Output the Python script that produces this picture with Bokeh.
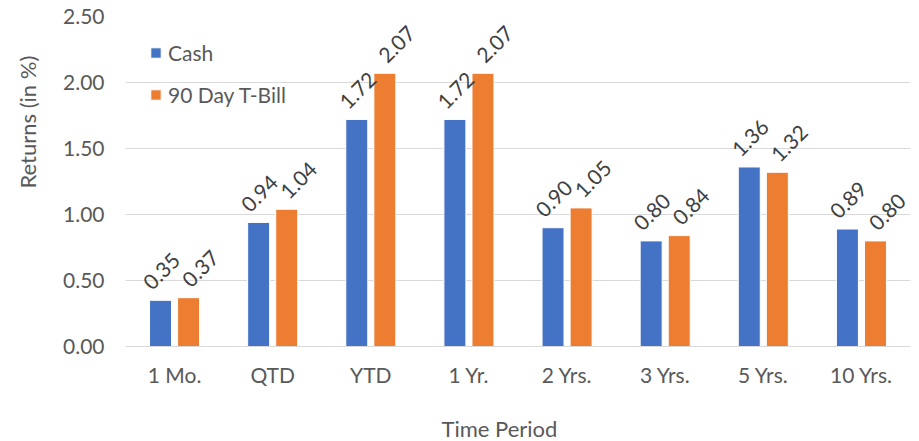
import math
from bokeh.plotting import figure
from bokeh.models import ColumnDataSource, Range1d, FactorRange, Title, NumeralTickFormatter, Legend, LegendItem
from bokeh.transform import dodge
from bokeh.core.properties import value
from bokeh.embed import file_html
from bokeh.resources import INLINE

categories = ["1 Mo.", "QTD", "YTD", "1 Yr.", "2 Yrs.", "3 Yrs.", "5 Yrs.", "10 Yrs."]
cash = [0.35, 0.94, 1.72, 1.72, 0.90, 0.80, 1.36, 0.89]
tbill = [0.37, 1.04, 2.07, 2.07, 1.05, 0.84, 1.32, 0.80]
y_ticks = [0.0, 0.5, 1.0, 1.5, 2.0, 2.5]

FONT = "Lato"
BLUE = "#4472C4"
ORANGE = "#ED7D31"
GREY = "#595959"

src = ColumnDataSource(dict(
    cat=categories, cash=cash, tbill=tbill,
    cash_lbl=["%.2f" % v for v in cash],
    tbill_lbl=["%.2f" % v for v in tbill],
))

p = figure(width=919, height=441, x_range=FactorRange(*categories), y_range=Range1d(0, 2.5),
           output_backend="svg", toolbar_location=None,
           min_border_left=125, min_border_right=9, min_border_top=16, min_border_bottom=94)
p.outline_line_color = None

r1 = p.vbar(x=dodge("cat", -0.143, range=p.x_range), top="cash", width=0.224, source=src,
            fill_color=BLUE, line_color="white", line_width=1)
r2 = p.vbar(x=dodge("cat", 0.143, range=p.x_range), top="tbill", width=0.224, source=src,
            fill_color=ORANGE, line_color="white", line_width=1)

for off, col, dx in [(-0.143, "cash_lbl", 1), (0.143, "tbill_lbl", 12)]:
    p.text(x=dodge("cat", off, range=p.x_range), y=col.replace("_lbl", ""), text=col, source=src,
           angle=math.pi / 4, text_align="center", text_baseline="middle", x_offset=dx, y_offset=-29,
           text_font=value(FONT), text_font_size="21px", text_color="#404040")

p.yaxis.ticker = y_ticks
p.yaxis.formatter = NumeralTickFormatter(format="0.00")
p.yaxis.axis_line_color = None
p.yaxis.major_tick_line_color = None
p.yaxis.minor_tick_line_color = None
p.yaxis.major_tick_out = 0
p.yaxis.major_tick_in = 0
p.yaxis.major_label_standoff = 21
p.yaxis.major_label_text_font = FONT
p.yaxis.major_label_text_font_size = "21px"
p.yaxis.major_label_text_color = GREY
# blank spacer label to push the title outward
p.yaxis.axis_label = " "
p.yaxis.axis_label_text_font_size = "1px"
p.yaxis.axis_label_standoff = 11

p.xaxis.axis_line_color = "#D9D9D9"
p.xaxis.major_tick_line_color = None
p.xaxis.minor_tick_line_color = None
p.xaxis.major_tick_out = 0
p.xaxis.major_tick_in = 0
p.xaxis.major_label_standoff = 15
p.xaxis.major_label_text_font = FONT
p.xaxis.major_label_text_font_size = "21px"
p.xaxis.major_label_text_color = GREY
p.xaxis.axis_label = " "
p.xaxis.axis_label_text_font_size = "1px"
p.xaxis.axis_label_standoff = 19

p.xgrid.grid_line_color = None
p.ygrid.grid_line_color = "#D9D9D9"

p.add_layout(Title(text="Time Period", align="left", offset=316, standoff=0,
                   text_font=FONT, text_font_size="22px", text_font_style="normal",
                   text_color=GREY), "below")
p.add_layout(Title(text="Returns (in %)", align="left", offset=158, standoff=8,
                   text_font=FONT, text_font_size="22px", text_font_style="normal",
                   text_color=GREY), "left")

legend = Legend(items=[LegendItem(label="Cash", renderers=[r1]),
                       LegendItem(label="90 Day T-Bill", renderers=[r2])],
                location="top_left", margin=24, padding=10, spacing=17,
                glyph_width=13, glyph_height=13, label_height=20, label_standoff=6,
                label_text_font=FONT, label_text_font_size="21px", label_text_color=GREY,
                border_line_color=None, background_fill_alpha=0)
p.add_layout(legend)

open("out.html", "w").write(file_html(p, INLINE))
